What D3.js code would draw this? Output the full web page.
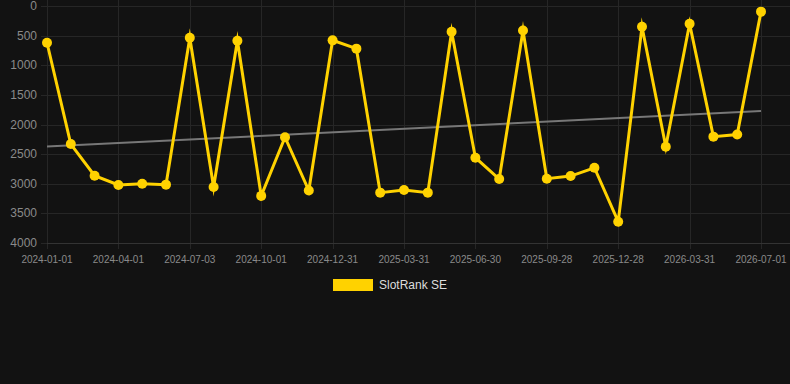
<!DOCTYPE html>
<html>
<head>
<meta charset="utf-8">
<script src="https://cdn.jsdelivr.net/npm/d3@7"></script>
<style>
  body { margin: 0; background: #121212; }
  svg { display: block; font-family: "Liberation Sans", Arial, sans-serif; }
  .grid line { stroke: #262626; stroke-width: 1; }
  .lbl { fill: #8a8a8a; }
</style>
</head>
<body>
<script>
// point dates (one per month) and rank values
var dates = ["2024-01-01","2024-02-01","2024-03-01","2024-04-01","2024-05-01","2024-06-01",
  "2024-07-03","2024-08-01","2024-09-01","2024-10-01","2024-11-01","2024-12-01",
  "2024-12-31","2025-01-31","2025-03-01","2025-03-31","2025-04-30","2025-05-31",
  "2025-06-30","2025-07-30","2025-08-29","2025-09-28","2025-10-28","2025-11-28",
  "2025-12-28","2026-01-28","2026-02-28","2026-03-31","2026-04-30","2026-05-31","2026-07-01"];
var ranks = [620,2330,2865,3020,3000,3015,535,3055,585,3205,2215,3115,580,720,3150,3105,
  3150,435,2560,2920,415,2915,2870,2730,3640,350,2375,300,2205,2170,95];
var xTicks = ["2024-01-01","2024-04-01","2024-07-03","2024-10-01","2024-12-31","2025-03-31",
  "2025-06-30","2025-09-28","2025-12-28","2026-03-31","2026-07-01"];
var yTicks = [0,500,1000,1500,2000,2500,3000,3500,4000];
var seriesName = "SlotRank SE";

var W = 790, H = 384;
var plotL = 47, plotR = 761, plotT = 6, plotB = 243;

var pts = dates.map(function(d, i) { return {date: d, v: ranks[i], i: i}; });

// category axis: points evenly spaced
var x = d3.scalePoint().domain(dates).range([plotL, plotR]);
var y = d3.scaleLinear().domain([0, 4000]).range([plotT, plotB]);

var svg = d3.select("body").append("svg").attr("width", W).attr("height", H);

// grid
var grid = svg.append("g").attr("class", "grid");
grid.selectAll(".h").data(yTicks).enter().append("line")
  .attr("x1", plotL - 6).attr("x2", W)
  .attr("y1", function(d) { return Math.round(y(d)) + 0.5; })
  .attr("y2", function(d) { return Math.round(y(d)) + 0.5; });
grid.selectAll(".v").data(xTicks).enter().append("line")
  .attr("y1", 0).attr("y2", plotB + 6)
  .attr("x1", function(d) { return Math.round(x(d)) + 0.5; })
  .attr("x2", function(d) { return Math.round(x(d)) + 0.5; });
svg.append("line")
  .attr("x1", plotL).attr("x2", W)
  .attr("y1", Math.round(y(4000)) + 0.5).attr("y2", Math.round(y(4000)) + 0.5)
  .attr("stroke", "#333");

// axis labels
svg.selectAll(".yl").data(yTicks).enter().append("text")
  .attr("class", "lbl")
  .attr("x", 37).attr("y", function(d) { return y(d) + 4; })
  .attr("text-anchor", "end").attr("font-size", 12)
  .text(function(d) { return d; });
svg.selectAll(".xl").data(xTicks).enter().append("text")
  .attr("class", "lbl")
  .attr("x", function(d) { return x(d); }).attr("y", 263)
  .attr("text-anchor", "middle").attr("font-size", 10)
  .text(function(d) { return d; });

// linear trend (least squares over point index)
var n = pts.length;
var mi = d3.mean(pts, function(p) { return p.i; });
var mv = d3.mean(pts, function(p) { return p.v; });
var slope = d3.sum(pts, function(p) { return (p.i - mi) * (p.v - mv); }) /
            d3.sum(pts, function(p) { return (p.i - mi) * (p.i - mi); });
var first = pts[0], last = pts[n - 1];
svg.append("line")
  .attr("x1", x(first.date)).attr("y1", y(mv + slope * (first.i - mi)))
  .attr("x2", x(last.date)).attr("y2", y(mv + slope * (last.i - mi)))
  .attr("stroke", "#777").attr("stroke-width", 2);

// series line
var line = d3.line()
  .x(function(p) { return x(p.date); })
  .y(function(p) { return y(p.v); });
svg.append("path").datum(pts)
  .attr("d", line)
  .attr("fill", "none")
  .attr("stroke", "#FFD200")
  .attr("stroke-width", 3)
  .attr("stroke-linejoin", "miter")
  .attr("stroke-miterlimit", 10);

svg.selectAll(".pt").data(pts).enter().append("circle")
  .attr("cx", function(p) { return x(p.date); })
  .attr("cy", function(p) { return y(p.v); })
  .attr("r", 5)
  .attr("fill", "#FFD200");

// legend
svg.append("rect").attr("x", 333).attr("y", 279).attr("width", 40).attr("height", 12)
  .attr("fill", "#FFD200");
svg.append("text").attr("x", 379).attr("y", 289)
  .attr("font-size", 12).attr("fill", "#dddddd")
  .text(seriesName);
</script>
</body>
</html>
